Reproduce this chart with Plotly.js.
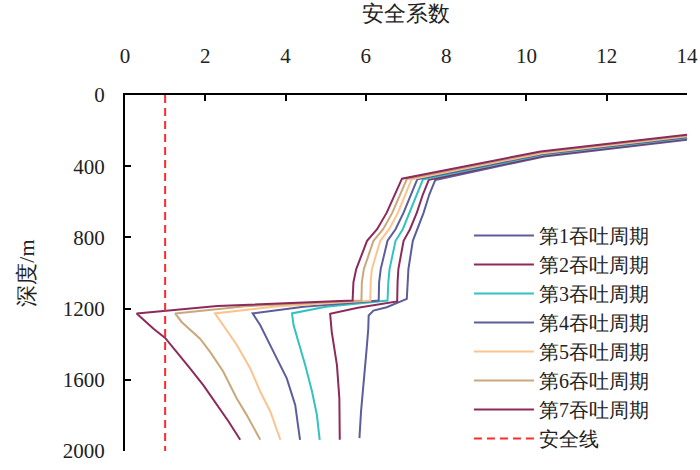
<!DOCTYPE html>
<html>
<head>
<meta charset="utf-8">
<script src="https://cdn.plot.ly/plotly-3.0.1.min.js"></script>
<style>
  html, body { margin: 0; padding: 0; background: #fff; }
  #chart { width: 700px; height: 470px; }
</style>
</head>
<body>
<div id="chart"></div>
<script>
// Safety factor vs depth for each injection/production cycle

const depth1 = [251, 345, 477, 559, 661, 754, 819, 978, 1052, 1145, 1192, 1211, 1239, 1313, 1425, 1611, 1778, 1928];
const sf1 = [14.0, 10.45, 7.73, 7.58, 7.44, 7.29, 7.17, 7.06, 7.04, 7.02, 6.52, 6.19, 6.07, 6.06, 6.02, 5.94, 5.88, 5.84];

const depth2 = [246, 341, 476, 559, 661, 754, 819, 978, 1052, 1160, 1195, 1229, 1331, 1518, 1704, 1937];
const sf2 = [14.0, 10.43, 7.57, 7.42, 7.27, 7.10, 6.94, 6.81, 6.79, 6.78, 5.8, 5.11, 5.15, 5.28, 5.34, 5.35];

const depth3 = [241, 336, 475, 559, 661, 754, 819, 978, 1052, 1155, 1190, 1227, 1294, 1387, 1518, 1667, 1797, 1937];
const sf3 = [14.0, 10.42, 7.42, 7.27, 7.10, 6.92, 6.74, 6.59, 6.56, 6.54, 5.0, 4.16, 4.20, 4.32, 4.49, 4.66, 4.78, 4.85];

const depth4 = [237, 332, 474, 559, 661, 754, 819, 978, 1052, 1155, 1190, 1227, 1294, 1443, 1592, 1741, 1937];
const sf4 = [14.0, 10.40, 7.28, 7.12, 6.94, 6.74, 6.54, 6.37, 6.33, 6.32, 4.45, 3.18, 3.37, 3.70, 4.03, 4.24, 4.36];

const depth5 = [232, 327, 473, 559, 661, 754, 819, 978, 1052, 1155, 1188, 1227, 1294, 1406, 1536, 1667, 1778, 1937];
const sf5 = [14.0, 10.39, 7.14, 6.99, 6.80, 6.58, 6.36, 6.15, 6.12, 6.11, 3.75, 2.24, 2.45, 2.79, 3.12, 3.37, 3.62, 3.87];

const depth6 = [228, 322, 472, 559, 661, 754, 819, 978, 1052, 1155, 1187, 1227, 1275, 1369, 1443, 1555, 1704, 1797, 1937];
const sf6 = [14.0, 10.37, 7.02, 6.86, 6.66, 6.43, 6.19, 5.95, 5.90, 5.89, 3.0, 1.25, 1.41, 1.87, 2.12, 2.45, 2.78, 3.03, 3.37];

const depth7 = [223, 317, 470, 559, 661, 754, 819, 978, 1052, 1155, 1185, 1227, 1272, 1313, 1365, 1443, 1536, 1630, 1685, 1760, 1834, 1937];
const sf7 = [14.0, 10.35, 6.90, 6.73, 6.52, 6.28, 6.03, 5.76, 5.69, 5.67, 2.3, 0.29, 0.50, 0.71, 1.0, 1.29, 1.62, 1.95, 2.12, 2.37, 2.58, 2.87];

const safeX = [1, 1];
const safeDepth = [0, 2000];

const seriesNames = ['第1吞吐周期', '第2吞吐周期', '第3吞吐周期', '第4吞吐周期', '第5吞吐周期', '第6吞吐周期', '第7吞吐周期'];
const seriesColors = ['#5b5d9c', '#8c2a5a', '#33c2bf', '#5b5d9c', '#fbc48e', '#c9a87c', '#8c2a5a'];

const xTicks = [0, 2, 4, 6, 8, 10, 12, 14];
const yTicks = [0, 400, 800, 1200, 1600, 2000];

const SERIF = 'Times New Roman, Liberation Serif, DejaVu Serif, serif';

const xs = [sf1, sf2, sf3, sf4, sf5, sf6, sf7];
const ys = [depth1, depth2, depth3, depth4, depth5, depth6, depth7];

const traces = seriesNames.map((name, i) => ({
    x: xs[i],
    y: ys[i],
    name: name,
    mode: 'lines',
    line: { color: seriesColors[i], width: 2 }
}));

traces.push({
    x: safeX,
    y: safeDepth,
    name: '安全线',
    mode: 'lines',
    line: { color: '#ff2a2a', width: 2, dash: '8px,5px' }
});

const layout = {
    width: 700,
    height: 470,
    margin: { l: 125, r: 13, t: 95, b: 17 },
    paper_bgcolor: '#fff',
    plot_bgcolor: '#fff',
    font: { family: SERIF, size: 20, color: '#222' },
    showlegend: true,
    xaxis: {
        side: 'top',
        range: [0, 14],
        tickvals: xTicks,
        ticks: 'inside',
        ticklen: 6,
        tickwidth: 2,
        tickcolor: '#000',
        showline: true,
        linecolor: '#000',
        linewidth: 2,
        showgrid: false,
        zeroline: false,
        ticklabelstandoff: 22,
        tickfont: { family: SERIF, size: 21, color: '#222' },
        title: { text: '安全系数', font: { family: SERIF, size: 22, color: '#222' }, standoff: 16 }
    },
    yaxis: {
        range: [2000, 0],
        tickvals: yTicks,
        ticks: 'inside',
        ticklen: 6,
        tickwidth: 2,
        tickcolor: '#000',
        showline: true,
        linecolor: '#000',
        linewidth: 2,
        showgrid: false,
        zeroline: false,
        ticklabelstandoff: 14,
        tickfont: { family: SERIF, size: 21, color: '#222' },
        title: { text: '深度/m', font: { family: SERIF, size: 22, color: '#222' }, standoff: 22 }
    },
    legend: {
        x: 0.612,
        y: 0.66,
        xanchor: 'left',
        yanchor: 'top',
        bgcolor: 'rgba(0,0,0,0)',
        itemwidth: 60,
        font: { family: SERIF, size: 20, color: '#222' }
    }
};

Plotly.newPlot('chart', traces, layout, { staticPlot: true });
</script>
</body>
</html>
